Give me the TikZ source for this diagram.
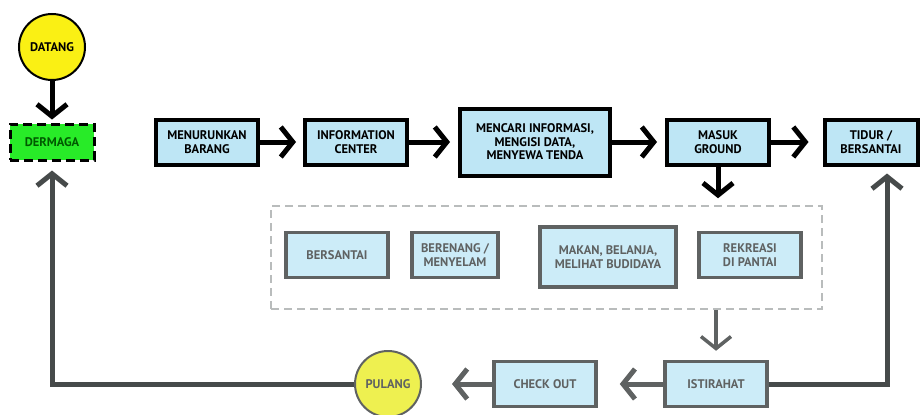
\documentclass[tikz,border=0pt]{standalone}
\usepackage{fontspec}
\setmainfont{PT Sans}
\usetikzlibrary{arrows.meta,positioning,calc}
\definecolor{boxblue}  {RGB}{190,230,245}
\definecolor{lowblue}  {RGB}{204,236,248}
\definecolor{dockgreen}{RGB}{40,235,40}
\definecolor{sunyellow}{RGB}{250,240,20}
\definecolor{paleyellow}{RGB}{238,240,80}
\definecolor{lowgray}  {RGB}{95,98,98}
\definecolor{loopgray} {RGB}{70,74,74}
\definecolor{dashgray} {RGB}{185,188,188}
\newcommand{\boxfont}{\fontsize{12.5}{13.5}\selectfont\bfseries}

\begin{document}
\begin{tikzpicture}[
  x=1pt,y=-1pt,
  box/.style  ={draw,line width=4pt,fill=boxblue,align=center,
                minimum width=102pt,minimum height=45pt,
                inner sep=2pt,font=\boxfont},
  lbox/.style ={box,draw=lowgray,fill=lowblue,text=lowgray,
                line width=3.5pt},
  circ/.style ={draw,circle,line width=2pt,minimum size=66pt,
                inner sep=0pt,font=\boxfont},
  arr/.style  ={-{Straight Barb[length=12pt,width=30pt]},line width=5pt},
  garr/.style ={arr,lowgray},
  loop/.style ={arr,loopgray},
]
\useasboundingbox (0,0) rectangle (922,415);

%% ── Start: arrival at the pier ───────────────────────────────────────────────
\node[circ,fill=sunyellow]  (datang)  at (52,47)  {DATANG};
\node[draw,dashed,line width=3pt,fill=dockgreen,minimum width=84pt,
      minimum height=36pt,font=\boxfont,text=green!35!black,
      dash pattern=on 9pt off 5pt]
                            (dermaga) at (52,142) {DERMAGA};

%% ── Row 1: main steps ────────────────────────────────────────────────────────
\node[box]                  (turun)   at (207,142) {MENURUNKAN\\BARANG};
\node[box]                  (info)    at (356,142) {INFORMATION\\CENTER};
\node[box,minimum width=150pt,minimum height=67pt]
                            (cari)    at (535,142)
  {MENCARI INFORMASI,\\MENGISI DATA,\\MENYEWA TENDA};
\node[box]                  (masuk)   at (718,142) {MASUK\\GROUND};
\node[box,minimum width=93pt]
                            (tidur)   at (871,142) {TIDUR /\\BERSANTAI};

%% ── Row 2: activities on the ground ──────────────────────────────────────────
\node[draw=dashgray,dashed,line width=1.5pt,dash pattern=on 8pt off 5pt,
      minimum width=551pt,minimum height=103pt]
                            (aktif)   at (546.5,257.5) {};
\node[lbox]                 (santai)  at (337,255) {BERSANTAI};
\node[lbox,minimum width=86pt]
                            (renang)  at (455,255) {BERENANG /\\MENYELAM};
\node[lbox,minimum width=136pt,minimum height=60pt]
                            (makan)   at (608,257) {MAKAN, BELANJA,\\MELIHAT BUDIDAYA};
\node[lbox]                 (rekreasi) at (750,255) {REKREASI\\DI PANTAI};

%% ── Row 3: going home ────────────────────────────────────────────────────────
\node[lbox]                 (istirahat) at (716,384) {ISTIRAHAT};
\node[lbox]                 (checkout)  at (545,384) {CHECK OUT};
\node[circ,fill=paleyellow,draw=lowgray,text=lowgray]
                            (pulang)    at (388,384) {PULANG};

\coordinate (kiri)  at (52,384);
\coordinate (kanan) at (887,384);

%% ── Connections: row 1 ───────────────────────────────────────────────────────
\draw[arr,shorten >=3pt]  (datang.south) -- (dermaga.north);
\draw[arr,shorten >=7pt]  (turun.east) -- (info.west);
\draw[arr,shorten >=8pt]  (info.east)  -- (cari.west);
\draw[arr,shorten >=8pt]  (cari.east)  -- (masuk.west);
\draw[arr,shorten >=14pt] (masuk.east) -- (tidur.west);
\draw[arr,shorten >=7pt]  (masuk.south) -- (masuk.south |- aktif.north);

%% ── Connections: activities -> rest -> home ──────────────────────────────────
\draw[garr,line width=3.5pt,shorten >=9pt]
  (aktif.south -| istirahat.north) -- (istirahat.north);
\draw[garr,shorten >=22pt] (istirahat.west) -- (checkout.east);
\draw[garr,shorten >=30pt] (checkout.west)  -- (pulang.east);

%% ── Loops back up ────────────────────────────────────────────────────────────
\draw[loop,shorten >=9pt] (pulang.west) -- (kiri) -- (dermaga.south);
\draw[loop,shorten >=7pt] (istirahat.east) -- (kanan) -- (kanan |- tidur.south);

\end{tikzpicture}
\end{document}
